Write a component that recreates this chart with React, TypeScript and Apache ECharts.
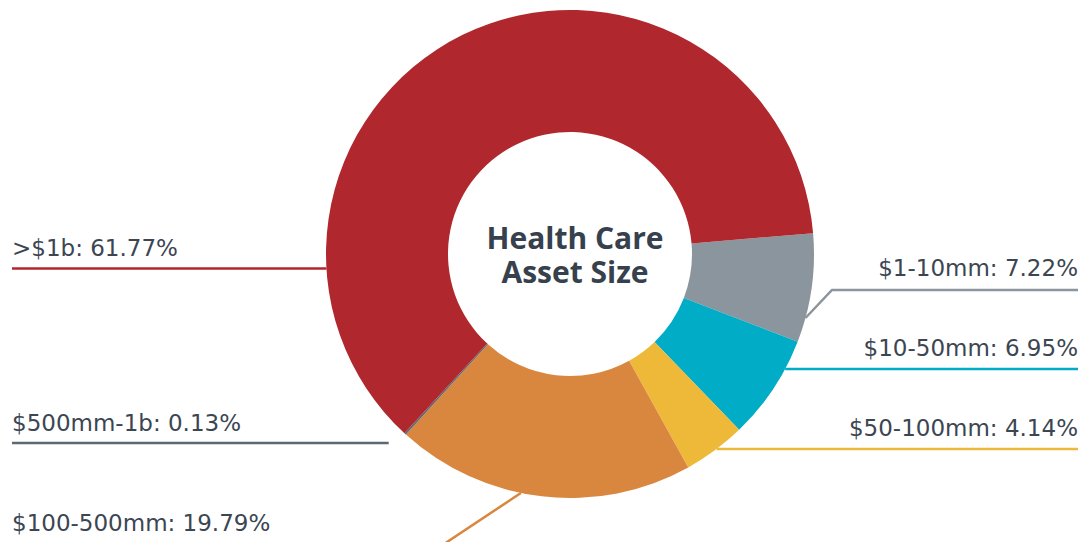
import React, { useEffect, useRef } from "react";
import * as echarts from "echarts";

const categories = ["$1-10mm", "$10-50mm", "$50-100mm", "$100-500mm", "$500mm-1b", ">$1b"];
const shares = [7.22, 6.95, 4.14, 19.79, 0.13, 61.77];
const colors = ["#8b959d", "#00acc6", "#eeb938", "#d9863f", "#5d6870", "#b0282d"];
const centerLines = ["Health Care", "Asset Size"];

const CX = 570;
const CY = 254;
const R_OUT = 244;
const R_IN = 122;
const LEFT_X = 12;
const RIGHT_X = 1078;

// per label: side, text centre y, horizontal line y, optional elbow (hit point y on the rim, elbow x), gap to rim
const LABEL_LAYOUT = [
  { side: "right", textY: 268, lineY: 290, hitY: 318, elbowX: 832, gap: 0 },
  { side: "right", textY: 348, lineY: 369, gap: 0 },
  { side: "right", textY: 428, lineY: 449, gap: 0 },
  { side: "left", textY: 523, lineY: 552, hitY: 493, elbowX: 432, gap: 0 },
  { side: "left", textY: 423, lineY: 443, gap: 27 },
  { side: "left", textY: 248, lineY: 268.5, gap: 0 },
];

function rimX(y: number, side: string) {
  const dy = y - CY;
  const dx = Math.sqrt(Math.max(0, R_OUT * R_OUT - dy * dy));
  return side === "left" ? CX - dx : CX + dx;
}

export default function App() {
  const ref = useRef<HTMLDivElement>(null);

  useEffect(() => {
    if (!ref.current) return;
    const chart = echarts.init(ref.current, undefined, { renderer: "svg" });
    chart.setOption({
      animation: false,
      backgroundColor: "#ffffff",
      graphic: centerLines.map((t, i) => ({
        type: "text",
        x: 575,
        y: 237 + i * 34,
        style: {
          text: t,
          textAlign: "center",
          textVerticalAlign: "middle",
          fontFamily: "Open Sans",
          fontWeight: 700,
          fontSize: 30,
          fill: "#36414d",
        },
      })),
      series: [
        {
          type: "pie",
          center: [CX, CY],
          radius: [R_IN, R_OUT],
          startAngle: 4.9,
          clockwise: true,
          avoidLabelOverlap: false,
          data: categories.map((c, i) => ({
            name: c,
            value: shares[i],
            itemStyle: { color: colors[i] },
          })),
          label: {
            show: true,
            position: "outside",
            formatter: (p: any) => `${p.name}: ${Number(p.value).toFixed(2)}%`,
            color: "#3b4652",
            fontFamily: "DejaVu Sans",
            fontSize: 23,
            fontWeight: 400,
          },
          labelLine: {
            show: true,
            smooth: false,
            lineStyle: { width: 2.5 },
          },
          labelLayout: (params: any) => {
            const L = LABEL_LAYOUT[params.dataIndex];
            const outerX = L.side === "left" ? LEFT_X : RIGHT_X;
            let points: number[][];
            if (L.hitY !== undefined) {
              points = [
                [rimX(L.hitY, L.side), L.hitY],
                [L.elbowX as number, L.lineY],
                [outerX, L.lineY],
              ];
            } else {
              const x0 = rimX(L.lineY, L.side) + (L.side === "left" ? -L.gap : L.gap);
              points = [
                [x0, L.lineY],
                [(x0 + outerX) / 2, L.lineY],
                [outerX, L.lineY],
              ];
            }
            return {
              x: outerX,
              y: L.textY,
              align: L.side === "left" ? "left" : "right",
              verticalAlign: "middle",
              labelLinePoints: points,
            };
          },
          emphasis: { disabled: true },
        },
      ],
    });
    return () => chart.dispose();
  }, []);

  return (
    <div
      ref={ref}
      style={{ position: "absolute", left: 0, top: 0, width: 1082, height: 542 }}
    />
  );
}
